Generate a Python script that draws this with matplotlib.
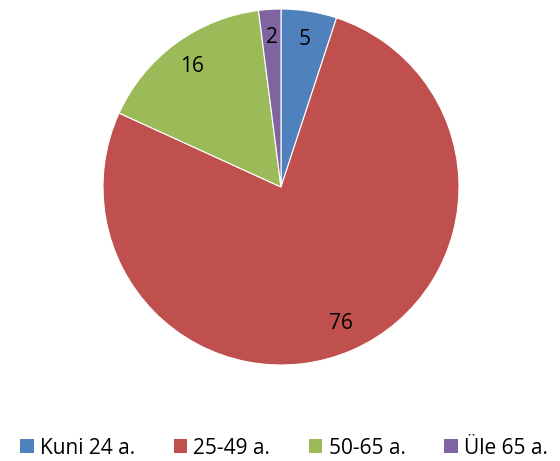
import matplotlib
matplotlib.use('Agg')
import matplotlib.pyplot as plt
from matplotlib.patches import Patch

# age groups and counts
categories = ['Kuni 24 a.', '25-49 a.', '50-65 a.', 'Üle 65 a.']
values = [5, 76, 16, 2]
colors = ['#4F81BD', '#C0504D', '#9BBB59', '#8064A2']

plt.rcParams['font.family'] = ['Open Sans', 'DejaVu Sans']

fig = plt.figure(figsize=(5.6, 4.61), dpi=100)
# pie axes: centre (281,187), radius ~178 px
r = 178
cx, cy = 281, 187
ax = fig.add_axes([(cx - r) / 560, (461 - cy - r) / 461, 2 * r / 560, 2 * r / 461])

wedges, texts = ax.pie(values, colors=colors, startangle=90, counterclock=False,
                       labels=[str(v) for v in values], labeldistance=0.84,
                       wedgeprops=dict(edgecolor='white', linewidth=0.8),
                       textprops=dict(fontsize=15, color='black', ha='center', va='center'))
for t in texts:
    t.set_ha('center')
    t.set_va('center')
ax.set_aspect('equal')
ax.set_xlim(-1, 1)
ax.set_ylim(-1, 1)

handles = [Patch(facecolor=c, edgecolor='none') for c in colors]
fig.legend(handles, categories, loc='center', bbox_to_anchor=(284 / 560, 1 - 448 / 461),
           ncol=4, frameon=False, fontsize=15, handlelength=0.65, handleheight=0.65,
           handletextpad=0.3, columnspacing=1.85, borderaxespad=0)

fig.savefig('out.png', dpi=100)
